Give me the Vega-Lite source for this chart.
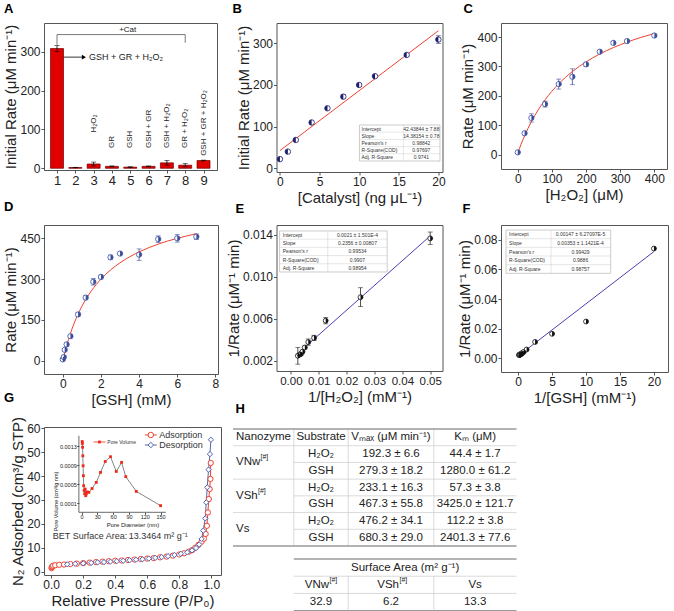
{
"$schema":"https://vega.github.io/schema/vega-lite/v6.json",
"padding":{"left":3,"top":2,"right":0,"bottom":0},
"background":"#ffffff",
"columns":3,
"align":"each",
"bounds":"flush",
"spacing":{"row":53,"column":55.5},
"config":{
 "font":"Liberation Sans",
 "view":{"stroke":"#555","strokeWidth":1},
 "axis":{"domain":false,"grid":false,"tickColor":"#555","tickSize":3,"tickCount":30,"labelFontSize":12,"labelColor":"#222","labelPadding":1,"labelOverlap":false,"labelFlush":false,"titleFontSize":15,"titleFontWeight":"normal","titleColor":"#222","titlePadding":1},
 "axisX":{"titlePadding":3},
 "title":{"fontSize":13,"fontWeight":"bold","anchor":"start","frame":"group","baseline":"alphabetic","color":"#000"}
},
"datasets":{
 "a_bars":[{"n":1,"rate":308,"lo":300,"hi":316},{"n":2,"rate":2,"lo":1.5,"hi":2.5},{"n":3,"rate":11,"lo":6,"hi":16},{"n":4,"rate":5,"lo":4,"hi":6},{"n":5,"rate":3,"lo":2,"hi":4},{"n":6,"rate":5,"lo":4,"hi":6},{"n":7,"rate":14,"lo":8,"hi":20},{"n":8,"rate":8,"lo":4,"hi":12},{"n":9,"rate":20,"lo":19,"hi":21}],
 "a_labels":[{"n":3,"y":92,"t":"H₂O₂"},{"n":4,"y":52,"t":"GR"},{"n":5,"y":52,"t":"GSH"},{"n":6,"y":52,"t":"GSH + GR"},{"n":7,"y":52,"t":"GSH + H₂O₂"},{"n":8,"y":52,"t":"GR + H₂O₂"},{"n":9,"y":32,"t":"GSH + GR + H₂O₂"}],
 "a_bracket":[{"n":1,"n2":8,"y":344,"y2":344},{"n":1,"n2":1,"y":318,"y2":344},{"n":8,"n2":8,"y":323,"y2":344}],
 "b_pts":[{"x":0,"y":22,"lo":19,"hi":25},{"x":1,"y":40,"lo":37,"hi":43},{"x":2,"y":68,"lo":65,"hi":71},{"x":4,"y":110,"lo":107,"hi":113},{"x":6,"y":144,"lo":141,"hi":147},{"x":8,"y":172,"lo":167,"hi":177},{"x":10,"y":200,"lo":197,"hi":203},{"x":12,"y":221,"lo":218,"hi":224},{"x":16,"y":272,"lo":269,"hi":275},{"x":20,"y":309,"lo":300,"hi":318}],
 "b_fit":[{"x":0,"y":42.44},{"x":20,"y":330.07}],
 "b_tab_box":[{"x":10.04,"x2":20.2,"y":17.5,"y2":103.9}],
 "b_tab_lines":[{"x":10.04,"x2":20.2,"y":86.6,"y2":86.6},{"x":10.04,"x2":20.2,"y":69.3,"y2":69.3},{"x":10.04,"x2":20.2,"y":52.1,"y2":52.1},{"x":10.04,"x2":20.2,"y":34.8,"y2":34.8},{"x":15.58,"x2":15.58,"y":17.5,"y2":103.9}],
 "b_tab_text":[{"y":95.3,"lab":"Intercept","val":"42.43844 ± 7.88"},{"y":78.0,"lab":"Slope","val":"14.38154 ± 0.78"},{"y":60.7,"lab":"Pearson's r","val":"0.98842"},{"y":43.4,"lab":"R-Square(COD)","val":"0.97697"},{"y":26.1,"lab":"Adj. R-Square","val":"0.9741"}],
 "c_pts":[{"x":0,"y":8,"lo":5,"hi":11},{"x":20,"y":73,"lo":68,"hi":78},{"x":40,"y":125,"lo":111,"hi":139},{"x":80,"y":172,"lo":162,"hi":182},{"x":120,"y":240,"lo":223,"hi":257},{"x":160,"y":265,"lo":238,"hi":292},{"x":200,"y":307,"lo":300,"hi":314},{"x":240,"y":350,"lo":345,"hi":355},{"x":280,"y":380,"lo":375,"hi":385},{"x":320,"y":386,"lo":381,"hi":391},{"x":400,"y":405,"lo":400,"hi":410}],
 "c_fit":[{"x":0,"y":5},{"x":10,"y":36.1},{"x":20,"y":64},{"x":40,"y":112.3},{"x":60,"y":152.5},{"x":80,"y":186.5},{"x":100,"y":215.7},{"x":120,"y":241},{"x":140,"y":263.1},{"x":160,"y":282.6},{"x":180,"y":300},{"x":200,"y":315.5},{"x":240,"y":342.1},{"x":280,"y":364.1},{"x":320,"y":382.6},{"x":360,"y":398.3},{"x":400,"y":411.9}],
 "d_pts":[{"x":0,"y":5,"lo":1,"hi":9},{"x":0.05,"y":13.5,"lo":9,"hi":18},{"x":0.1,"y":40,"lo":35,"hi":45},{"x":0.2,"y":60,"lo":54,"hi":66},{"x":0.4,"y":90,"lo":84,"hi":96},{"x":0.8,"y":170,"lo":164,"hi":176},{"x":1.2,"y":232,"lo":224,"hi":240},{"x":1.6,"y":290,"lo":278,"hi":302},{"x":2,"y":308,"lo":301,"hi":315},{"x":2.5,"y":380,"lo":372,"hi":388},{"x":3,"y":394,"lo":389,"hi":399},{"x":4,"y":390,"lo":369,"hi":411},{"x":5,"y":447,"lo":435,"hi":459},{"x":6,"y":450,"lo":436,"hi":464},{"x":7,"y":456,"lo":446,"hi":466}],
 "d_fit":[{"x":0,"y":0},{"x":0.1,"y":28.6},{"x":0.2,"y":54.5},{"x":0.4,"y":100},{"x":0.6,"y":138.5},{"x":0.8,"y":171.4},{"x":1,"y":200},{"x":1.25,"y":230.8},{"x":1.5,"y":257.1},{"x":2,"y":300},{"x":2.5,"y":333.3},{"x":3,"y":360},{"x":3.5,"y":381.8},{"x":4,"y":400},{"x":5,"y":428.6},{"x":6,"y":450},{"x":7,"y":466.7}],
 "e_pts":[{"x":0.0025,"y":0.00247,"lo":0.00167,"hi":0.00327},{"x":0.003125,"y":0.00259,"lo":0.00249,"hi":0.00269},{"x":0.00357,"y":0.00263,"lo":0.00253,"hi":0.00273},{"x":0.00417,"y":0.00286,"lo":0.00276,"hi":0.00296},{"x":0.005,"y":0.00326,"lo":0.00314,"hi":0.00338},{"x":0.00625,"y":0.00377,"lo":0.00347,"hi":0.00407},{"x":0.00833,"y":0.00417,"lo":0.00392,"hi":0.00442},{"x":0.0125,"y":0.00581,"lo":0.00551,"hi":0.00611},{"x":0.025,"y":0.00805,"lo":0.00715,"hi":0.00895},{"x":0.05,"y":0.01365,"lo":0.01305,"hi":0.01425}],
 "e_fit":[{"x":0.0025,"y":0.002689},{"x":0.05,"y":0.01388}],
 "e_tab_box":[{"x":-0.00404,"x2":0.03456,"y":0.010448,"y2":0.014352}],
 "e_tab_lines":[{"x":-0.00404,"x2":0.03456,"y":0.013571,"y2":0.013571},{"x":-0.00404,"x2":0.03456,"y":0.01279,"y2":0.01279},{"x":-0.00404,"x2":0.03456,"y":0.01201,"y2":0.01201},{"x":-0.00404,"x2":0.03456,"y":0.011229,"y2":0.011229},{"x":0.01324,"x2":0.01324,"y":0.010448,"y2":0.014352}],
 "e_tab_text":[{"y":0.013962,"lab":"Intercept","val":"0.0021 ± 1.501E-4"},{"y":0.013181,"lab":"Slope","val":"0.2356 ± 0.00807"},{"y":0.0124,"lab":"Pearson's r","val":"0.99534"},{"y":0.011619,"lab":"R-Square(COD)","val":"0.9907"},{"y":0.010838,"lab":"Adj. R-Square","val":"0.98954"}],
 "f_pts":[{"x":0.143,"y":0.0022,"lo":0.0019,"hi":0.0025},{"x":0.167,"y":0.00222,"lo":0.0019,"hi":0.00254},{"x":0.2,"y":0.00224,"lo":0.0019,"hi":0.00258},{"x":0.25,"y":0.00256,"lo":0.0022,"hi":0.0029},{"x":0.333,"y":0.00254,"lo":0.0022,"hi":0.0029},{"x":0.4,"y":0.00263,"lo":0.0023,"hi":0.003},{"x":0.5,"y":0.00325,"lo":0.0029,"hi":0.0036},{"x":0.625,"y":0.00345,"lo":0.0031,"hi":0.0038},{"x":0.833,"y":0.0043,"lo":0.0039,"hi":0.0047},{"x":1.25,"y":0.0059,"lo":0.0055,"hi":0.0063},{"x":2.5,"y":0.011,"lo":0.0103,"hi":0.0117},{"x":5,"y":0.0165,"lo":0.0155,"hi":0.0175},{"x":10,"y":0.0248,"lo":0.0237,"hi":0.0259},{"x":20,"y":0.0741,"lo":0.0729,"hi":0.0753}],
 "f_fit":[{"x":0.143,"y":0.001975},{"x":20,"y":0.07207}],
 "f_tab_box":[{"x":-1.78,"x2":13.63,"y":0.05735,"y2":0.0866}],
 "f_tab_lines":[{"x":-1.78,"x2":13.63,"y":0.08075,"y2":0.08075},{"x":-1.78,"x2":13.63,"y":0.0749,"y2":0.0749},{"x":-1.78,"x2":13.63,"y":0.06905,"y2":0.06905},{"x":-1.78,"x2":13.63,"y":0.0632,"y2":0.0632},{"x":4.84,"x2":4.84,"y":0.05735,"y2":0.0866}],
 "f_tab_text":[{"y":0.083675,"lab":"Intercept","val":"0.00147 ± 6.27097E-5"},{"y":0.077825,"lab":"Slope","val":"0.00353 ± 1.1421E-4"},{"y":0.071975,"lab":"Pearson's r","val":"0.99429"},{"y":0.066125,"lab":"R-Square(COD)","val":"0.9886"},{"y":0.060275,"lab":"Adj. R-Square","val":"0.98757"}],
 "g_iso":[
  {"s":"Adsorption","p":0.002,"v":1.5},{"s":"Adsorption","p":0.004,"v":1.9},{"s":"Adsorption","p":0.007,"v":2.2},{"s":"Adsorption","p":0.012,"v":2.5},{"s":"Adsorption","p":0.025,"v":2.7},{"s":"Adsorption","p":0.05,"v":2.9},{"s":"Adsorption","p":0.08,"v":3.0},{"s":"Adsorption","p":0.12,"v":3.2},{"s":"Adsorption","p":0.16,"v":3.4},{"s":"Adsorption","p":0.2,"v":3.6},{"s":"Adsorption","p":0.24,"v":3.8},{"s":"Adsorption","p":0.28,"v":4.0},{"s":"Adsorption","p":0.32,"v":4.2},{"s":"Adsorption","p":0.36,"v":4.4},{"s":"Adsorption","p":0.4,"v":4.6},{"s":"Adsorption","p":0.44,"v":4.7},{"s":"Adsorption","p":0.48,"v":4.9},{"s":"Adsorption","p":0.52,"v":5.1},{"s":"Adsorption","p":0.56,"v":5.3},{"s":"Adsorption","p":0.6,"v":5.5},{"s":"Adsorption","p":0.64,"v":5.7},{"s":"Adsorption","p":0.68,"v":6.0},{"s":"Adsorption","p":0.72,"v":6.3},{"s":"Adsorption","p":0.76,"v":6.7},{"s":"Adsorption","p":0.8,"v":7.2},{"s":"Adsorption","p":0.83,"v":7.7},{"s":"Adsorption","p":0.86,"v":8.4},{"s":"Adsorption","p":0.88,"v":9.0},{"s":"Adsorption","p":0.9,"v":10.0},{"s":"Adsorption","p":0.92,"v":11.2},{"s":"Adsorption","p":0.94,"v":12.6},{"s":"Adsorption","p":0.954,"v":13.8},{"s":"Adsorption","p":0.965,"v":15.8},{"s":"Adsorption","p":0.973,"v":19.2},{"s":"Adsorption","p":0.979,"v":24.8},{"s":"Adsorption","p":0.985,"v":30.4},{"s":"Adsorption","p":0.99,"v":34.6},{"s":"Adsorption","p":0.995,"v":38.8},{"s":"Adsorption","p":0.997,"v":45.5},
  {"s":"Desorption","p":0.998,"v":55.2},{"s":"Desorption","p":0.992,"v":49.2},{"s":"Desorption","p":0.983,"v":42.7},{"s":"Desorption","p":0.975,"v":35.3},{"s":"Desorption","p":0.969,"v":29},{"s":"Desorption","p":0.9625,"v":22.3},{"s":"Desorption","p":0.95,"v":17.2},{"s":"Desorption","p":0.94,"v":13.7},{"s":"Desorption","p":0.925,"v":11.4},{"s":"Desorption","p":0.905,"v":9.9},{"s":"Desorption","p":0.88,"v":8.9},{"s":"Desorption","p":0.85,"v":8.1},{"s":"Desorption","p":0.81,"v":7.5},{"s":"Desorption","p":0.77,"v":7.0},{"s":"Desorption","p":0.73,"v":6.5},{"s":"Desorption","p":0.69,"v":6.1},{"s":"Desorption","p":0.65,"v":5.8},{"s":"Desorption","p":0.61,"v":5.5},{"s":"Desorption","p":0.57,"v":5.2},{"s":"Desorption","p":0.53,"v":5.0},{"s":"Desorption","p":0.49,"v":4.8},{"s":"Desorption","p":0.45,"v":4.6},{"s":"Desorption","p":0.41,"v":4.4},{"s":"Desorption","p":0.37,"v":4.2},{"s":"Desorption","p":0.33,"v":4.0},{"s":"Desorption","p":0.29,"v":3.9},{"s":"Desorption","p":0.25,"v":3.7},{"s":"Desorption","p":0.2,"v":3.5},{"s":"Desorption","p":0.15,"v":3.3},{"s":"Desorption","p":0.1,"v":3.1}],
 "g_leg":[{"s":"Adsorption","p":0.585,"p2":0.66,"pm":0.6225,"pt":0.675,"v":57.2},{"s":"Desorption","p":0.585,"p2":0.66,"pm":0.6225,"pt":0.675,"v":53.0}],
 "pore":[{"d":1.3,"pv":0.0014},{"d":1.6,"pv":0.00136},{"d":2.0,"pv":0.00128},{"d":2.5,"pv":0.0011},{"d":3.0,"pv":0.00089},{"d":3.5,"pv":0.00068},{"d":4.0,"pv":0.00047},{"d":5.0,"pv":0.00037},{"d":6.0,"pv":0.0003},{"d":7.0,"pv":0.0004},{"d":8.0,"pv":0.00026},{"d":9.0,"pv":0.0003},{"d":11,"pv":0.00034},{"d":14,"pv":0.00033},{"d":20,"pv":0.00041},{"d":28,"pv":0.00054},{"d":36,"pv":0.00075},{"d":45,"pv":0.00098},{"d":55,"pv":0.00108},{"d":66,"pv":0.00077},{"d":76,"pv":0.00096},{"d":84,"pv":0.00066},{"d":104,"pv":0.00035},{"d":150,"pv":0.00005}],
 "h_light":[{"x":-0.5,"x2":3.5,"y":0.5,"y2":0.5},{"x":0.5,"x2":3.5,"y":1.5,"y2":1.5},{"x":-0.5,"x2":3.5,"y":2.5,"y2":2.5},{"x":0.5,"x2":3.5,"y":3.5,"y2":3.5},{"x":-0.5,"x2":3.5,"y":4.5,"y2":4.5},{"x":0.5,"x2":3.5,"y":5.5,"y2":5.5},{"x":0.5,"x2":0.5,"y":-0.5,"y2":6.5},{"x":1.5,"x2":1.5,"y":-0.5,"y2":6.5},{"x":2.5,"x2":2.5,"y":-0.5,"y2":6.5},{"x":0.5,"x2":3.5,"y":8.5,"y2":8.5},{"x":0.5,"x2":3.5,"y":9.5,"y2":9.5},{"x":1.5,"x2":1.5,"y":8.5,"y2":10.5},{"x":2.5,"x2":2.5,"y":8.5,"y2":10.5}],
 "h_dark":[{"x":-0.5,"x2":3.5,"y":-0.5,"y2":-0.5},{"x":-0.5,"x2":3.5,"y":6.5,"y2":6.5},{"x":0.5,"x2":3.5,"y":7.5,"y2":7.5},{"x":0.5,"x2":3.5,"y":10.5,"y2":10.5}],
 "h_center":[{"col":1,"row":0,"t":"Substrate"},{"col":2,"row":0,"t":"Vₘₐₓ (μM min⁻¹)"},{"col":3,"row":0,"t":"Kₘ (μM)"},
  {"col":1,"row":1,"t":"H₂O₂"},{"col":2,"row":1,"t":"192.3 ± 6.6"},{"col":3,"row":1,"t":"44.4 ± 1.7"},
  {"col":1,"row":2,"t":"GSH"},{"col":2,"row":2,"t":"279.3 ± 18.2"},{"col":3,"row":2,"t":"1280.0 ± 61.2"},
  {"col":1,"row":3,"t":"H₂O₂"},{"col":2,"row":3,"t":"233.1 ± 16.3"},{"col":3,"row":3,"t":"57.3 ± 3.8"},
  {"col":1,"row":4,"t":"GSH"},{"col":2,"row":4,"t":"467.3 ± 55.8"},{"col":3,"row":4,"t":"3425.0 ± 121.7"},
  {"col":1,"row":5,"t":"H₂O₂"},{"col":2,"row":5,"t":"476.2 ± 34.1"},{"col":3,"row":5,"t":"112.2 ± 3.8"},
  {"col":1,"row":6,"t":"GSH"},{"col":2,"row":6,"t":"680.3 ± 29.0"},{"col":3,"row":6,"t":"2401.3 ± 77.6"},
  {"col":2.165,"row":8,"t":"Surface Area (m² g⁻¹)"},{"col":3,"row":9,"t":"Vs"},
  {"col":1,"row":10,"t":"32.9"},{"col":2,"row":10,"t":"6.2"},{"col":3,"row":10,"t":"13.3"}],
 "h_left":[{"col":-0.5,"row":0,"t":"Nanozyme"},{"col":-0.5,"row":1.5,"t":"VNw"},{"col":-0.5,"row":3.5,"t":"VSh"},{"col":-0.5,"row":5.5,"t":"Vs"}]
},
"concat":[
 {"width":173,"height":147,"title":{"text":"A","dx":-40,"offset":7},
  "layer":[
   {"data":{"name":"a_bars"},"mark":{"type":"bar","size":13,"fill":"#e10000","stroke":"#6e0000","strokeWidth":0.7},
    "encoding":{"x":{"field":"n","type":"quantitative","scale":{"domain":[0.563,9.463],"nice":false,"zero":false},"axis":{"values":[1,2,3,4,5,6,7,8,9],"format":"d","tickCount":30,"title":null,"labelFontSize":13,"labelOverlap":false}},
     "y":{"field":"rate","type":"quantitative","scale":{"domain":[-4.4,373.8],"nice":false,"zero":false},"axis":{"values":[0,100,200,300],"format":"d","tickCount":30,"labelOverlap":false,"title":"Initial Rate (μM min⁻¹)"}}}},
   {"data":{"name":"a_bars"},"mark":{"type":"rule","color":"#000","strokeWidth":0.8},"encoding":{"x":{"field":"n","type":"quantitative"},"y":{"field":"lo","type":"quantitative"},"y2":{"field":"hi"}}},
   {"data":{"name":"a_bars"},"mark":{"type":"tick","orient":"horizontal","size":5,"thickness":0.8,"color":"#000"},"encoding":{"x":{"field":"n","type":"quantitative"},"y":{"field":"lo","type":"quantitative"}}},
   {"data":{"name":"a_bars"},"mark":{"type":"tick","orient":"horizontal","size":5,"thickness":0.8,"color":"#000"},"encoding":{"x":{"field":"n","type":"quantitative"},"y":{"field":"hi","type":"quantitative"}}},
   {"data":{"name":"a_labels"},"mark":{"type":"text","angle":270,"align":"left","baseline":"middle","fontSize":8,"color":"#222"},"encoding":{"x":{"field":"n","type":"quantitative"},"y":{"field":"y","type":"quantitative"},"text":{"field":"t"}}},
   {"data":{"name":"a_bracket"},"mark":{"type":"rule","color":"#555","strokeWidth":0.8},"encoding":{"x":{"field":"n","type":"quantitative"},"x2":{"field":"n2"},"y":{"field":"y","type":"quantitative"},"y2":{"field":"y2"}}},
   {"data":{"values":[{"n":4.86,"y":350,"t":"+Cat"}]},"mark":{"type":"text","align":"center","baseline":"alphabetic","fontSize":8,"color":"#222"},"encoding":{"x":{"field":"n","type":"quantitative"},"y":{"field":"y","type":"quantitative"},"text":{"field":"t"}}},
   {"data":{"values":[{"n":1.36,"n2":2.45,"y":286}]},"mark":{"type":"rule","color":"#000","strokeWidth":0.8},"encoding":{"x":{"field":"n","type":"quantitative"},"x2":{"field":"n2"},"y":{"field":"y","type":"quantitative"}}},
   {"data":{"values":[{"n":2.47,"y":286}]},"mark":{"type":"point","shape":"triangle-right","filled":true,"color":"#000","size":22,"opacity":1},"encoding":{"x":{"field":"n","type":"quantitative"},"y":{"field":"y","type":"quantitative"}}},
   {"data":{"values":[{"n":2.75,"y":286,"t":"GSH + GR + H₂O₂"}]},"mark":{"type":"text","align":"left","baseline":"middle","fontSize":9,"color":"#222"},"encoding":{"x":{"field":"n","type":"quantitative"},"y":{"field":"y","type":"quantitative"},"text":{"field":"t"}}}
  ]},
 {"width":166,"height":149,"title":{"text":"B","dx":-44,"offset":7},
  "layer":[
   {"data":{"name":"b_tab_box"},"mark":{"type":"rect","fill":"#fff","stroke":"#aaa","strokeWidth":0.6},
    "encoding":{"x":{"field":"x","type":"quantitative","scale":{"domain":[-0.434,20.52],"nice":false,"zero":false},"axis":{"values":[0,5,10,15,20],"format":"d","tickCount":30,"labelOverlap":false,"title":"[Catalyst] (ng μL⁻¹)"}},"x2":{"field":"x2"},
     "y":{"field":"y","type":"quantitative","scale":{"domain":[-8.9,348.7],"nice":false,"zero":false},"axis":{"values":[0,100,200,300],"format":"d","tickCount":30,"labelOverlap":false,"title":"Initial Rate (μM min⁻¹)"}},"y2":{"field":"y2"}}},
   {"data":{"name":"b_tab_lines"},"mark":{"type":"rule","color":"#ccc","strokeWidth":0.5},"encoding":{"x":{"field":"x","type":"quantitative"},"x2":{"field":"x2"},"y":{"field":"y","type":"quantitative"},"y2":{"field":"y2"}}},
   {"data":{"name":"b_tab_text"},"mark":{"type":"text","align":"left","baseline":"middle","fontSize":5,"color":"#333"},"encoding":{"x":{"datum":10.3,"type":"quantitative"},"y":{"field":"y","type":"quantitative"},"text":{"field":"lab"}}},
   {"data":{"name":"b_tab_text"},"mark":{"type":"text","align":"center","baseline":"middle","fontSize":5,"color":"#333"},"encoding":{"x":{"datum":17.85,"type":"quantitative"},"y":{"field":"y","type":"quantitative"},"text":{"field":"val"}}},
   {"data":{"name":"b_pts"},"mark":{"type":"rule","color":"#1d1d6e","strokeWidth":0.8},"encoding":{"x":{"field":"x","type":"quantitative"},"y":{"field":"lo","type":"quantitative"},"y2":{"field":"hi"}}},
   {"data":{"name":"b_pts"},"mark":{"type":"tick","orient":"horizontal","size":5,"thickness":0.8,"color":"#1d1d6e"},"encoding":{"x":{"field":"x","type":"quantitative"},"y":{"field":"lo","type":"quantitative"}}},
   {"data":{"name":"b_pts"},"mark":{"type":"tick","orient":"horizontal","size":5,"thickness":0.8,"color":"#1d1d6e"},"encoding":{"x":{"field":"x","type":"quantitative"},"y":{"field":"hi","type":"quantitative"}}},
   {"data":{"name":"b_fit"},"mark":{"type":"line","color":"#f0412f","strokeWidth":1},"encoding":{"x":{"field":"x","type":"quantitative"},"y":{"field":"y","type":"quantitative"}}},
   {"data":{"name":"b_pts"},"mark":{"type":"point","shape":"circle","filled":true,"fill":"#fff","stroke":"#1d1d6e","strokeWidth":0.8,"size":30,"opacity":1},"encoding":{"x":{"field":"x","type":"quantitative"},"y":{"field":"y","type":"quantitative"}}},
   {"data":{"name":"b_pts"},"mark":{"type":"point","shape":"M0,-1A1,1,0,0,0,0,1Z","filled":true,"fill":"#1d1d6e","strokeWidth":0,"size":30,"opacity":1},"encoding":{"x":{"field":"x","type":"quantitative"},"y":{"field":"y","type":"quantitative"}}}
  ]},
 {"width":166,"height":146,"title":{"text":"C","dx":-37.5,"offset":7},
  "layer":[
   {"data":{"name":"c_pts"},"mark":{"type":"rule","color":"#3a4d9c","strokeWidth":0.8},
    "encoding":{"x":{"field":"x","type":"quantitative","scale":{"domain":[-49,437],"nice":false,"zero":false},"axis":{"values":[0,100,200,300,400],"format":"d","tickCount":30,"labelOverlap":false,"title":"[H₂O₂] (μM)"}},
     "y":{"field":"lo","type":"quantitative","scale":{"domain":[-48.6,447.6],"nice":false,"zero":false},"axis":{"values":[0,100,200,300,400],"format":"d","tickCount":30,"labelOverlap":false,"title":"Rate (μM min⁻¹)"}},"y2":{"field":"hi"}}},
   {"data":{"name":"c_pts"},"mark":{"type":"tick","orient":"horizontal","size":5,"thickness":0.8,"color":"#3a4d9c"},"encoding":{"x":{"field":"x","type":"quantitative"},"y":{"field":"lo","type":"quantitative"}}},
   {"data":{"name":"c_pts"},"mark":{"type":"tick","orient":"horizontal","size":5,"thickness":0.8,"color":"#3a4d9c"},"encoding":{"x":{"field":"x","type":"quantitative"},"y":{"field":"hi","type":"quantitative"}}},
   {"data":{"name":"c_fit"},"mark":{"type":"line","color":"#f0412f","strokeWidth":1,"interpolate":"monotone"},"encoding":{"x":{"field":"x","type":"quantitative"},"y":{"field":"y","type":"quantitative"}}},
   {"data":{"name":"c_pts"},"mark":{"type":"point","shape":"circle","filled":true,"fill":"#fff","stroke":"#3a4d9c","strokeWidth":0.8,"size":28,"opacity":1},"encoding":{"x":{"field":"x","type":"quantitative"},"y":{"field":"y","type":"quantitative"}}},
   {"data":{"name":"c_pts"},"mark":{"type":"point","shape":"M0,-1A1,1,0,0,1,0,1Z","filled":true,"fill":"#3a4d9c","strokeWidth":0,"size":28,"opacity":1},"encoding":{"x":{"field":"x","type":"quantitative"},"y":{"field":"y","type":"quantitative"}}}
  ]},
 {"width":174,"height":149,"title":{"text":"D","dx":-40,"offset":11},
  "layer":[
   {"data":{"name":"d_pts"},"mark":{"type":"rule","color":"#3a4d9c","strokeWidth":0.8},
    "encoding":{"x":{"field":"x","type":"quantitative","scale":{"domain":[-0.985,8.134],"nice":false,"zero":false},"axis":{"values":[0,2,4,6,8],"format":"d","tickCount":30,"labelOverlap":false,"title":"[GSH] (mM)"}},
     "y":{"field":"lo","type":"quantitative","scale":{"domain":[-48.9,498.9],"nice":false,"zero":false},"axis":{"values":[0,150,300,450],"format":"d","tickCount":30,"labelOverlap":false,"title":"Rate (μM min⁻¹)"}},"y2":{"field":"hi"}}},
   {"data":{"name":"d_pts"},"mark":{"type":"tick","orient":"horizontal","size":5,"thickness":0.8,"color":"#3a4d9c"},"encoding":{"x":{"field":"x","type":"quantitative"},"y":{"field":"lo","type":"quantitative"}}},
   {"data":{"name":"d_pts"},"mark":{"type":"tick","orient":"horizontal","size":5,"thickness":0.8,"color":"#3a4d9c"},"encoding":{"x":{"field":"x","type":"quantitative"},"y":{"field":"hi","type":"quantitative"}}},
   {"data":{"name":"d_fit"},"mark":{"type":"line","color":"#f0412f","strokeWidth":1,"interpolate":"monotone"},"encoding":{"x":{"field":"x","type":"quantitative"},"y":{"field":"y","type":"quantitative"}}},
   {"data":{"name":"d_pts"},"mark":{"type":"point","shape":"circle","filled":true,"fill":"#fff","stroke":"#3a4d9c","strokeWidth":0.8,"size":28,"opacity":1},"encoding":{"x":{"field":"x","type":"quantitative"},"y":{"field":"y","type":"quantitative"}}},
   {"data":{"name":"d_pts"},"mark":{"type":"point","shape":"M0,-1A1,1,0,0,1,0,1Z","filled":true,"fill":"#3a4d9c","strokeWidth":0,"size":28,"opacity":1},"encoding":{"x":{"field":"x","type":"quantitative"},"y":{"field":"y","type":"quantitative"}}}
  ]},
 {"width":166,"height":146,"title":{"text":"E","dx":-41,"offset":9},
  "layer":[
   {"data":{"name":"e_tab_box"},"mark":{"type":"rect","fill":"#fff","stroke":"#aaa","strokeWidth":0.6},
    "encoding":{"x":{"field":"x","type":"quantitative","scale":{"domain":[-0.00515,0.05441],"nice":false,"zero":false},"axis":{"values":[0,0.01,0.02,0.03,0.04,0.05],"tickCount":30,"format":".2f","labelFontSize":11.5,"labelOverlap":false,"title":"1/[H₂O₂] (mM⁻¹)"}},"x2":{"field":"x2"},
     "y":{"field":"y","type":"quantitative","scale":{"domain":[0.00102,0.01492],"nice":false,"zero":false},"axis":{"values":[0.002,0.006,0.01,0.014],"tickCount":30,"format":".3f","labelOverlap":false,"title":"1/Rate (μM⁻¹ min)"}},"y2":{"field":"y2"}}},
   {"data":{"name":"e_tab_lines"},"mark":{"type":"rule","color":"#ccc","strokeWidth":0.5},"encoding":{"x":{"field":"x","type":"quantitative"},"x2":{"field":"x2"},"y":{"field":"y","type":"quantitative"},"y2":{"field":"y2"}}},
   {"data":{"name":"e_tab_text"},"mark":{"type":"text","align":"left","baseline":"middle","fontSize":5,"color":"#333"},"encoding":{"x":{"datum":-0.0029,"type":"quantitative"},"y":{"field":"y","type":"quantitative"},"text":{"field":"lab"}}},
   {"data":{"name":"e_tab_text"},"mark":{"type":"text","align":"center","baseline":"middle","fontSize":5,"color":"#333"},"encoding":{"x":{"datum":0.0239,"type":"quantitative"},"y":{"field":"y","type":"quantitative"},"text":{"field":"val"}}},
   {"data":{"name":"e_pts"},"mark":{"type":"rule","color":"#222","strokeWidth":0.8},"encoding":{"x":{"field":"x","type":"quantitative"},"y":{"field":"lo","type":"quantitative"},"y2":{"field":"hi"}}},
   {"data":{"name":"e_pts"},"mark":{"type":"tick","orient":"horizontal","size":5,"thickness":0.8,"color":"#222"},"encoding":{"x":{"field":"x","type":"quantitative"},"y":{"field":"lo","type":"quantitative"}}},
   {"data":{"name":"e_pts"},"mark":{"type":"tick","orient":"horizontal","size":5,"thickness":0.8,"color":"#222"},"encoding":{"x":{"field":"x","type":"quantitative"},"y":{"field":"hi","type":"quantitative"}}},
   {"data":{"name":"e_fit"},"mark":{"type":"line","color":"#4a3fb0","strokeWidth":1},"encoding":{"x":{"field":"x","type":"quantitative"},"y":{"field":"y","type":"quantitative"}}},
   {"data":{"name":"e_pts"},"mark":{"type":"point","shape":"circle","filled":true,"fill":"#fff","stroke":"#111","strokeWidth":0.8,"size":24,"opacity":1},"encoding":{"x":{"field":"x","type":"quantitative"},"y":{"field":"y","type":"quantitative"}}},
   {"data":{"name":"e_pts"},"mark":{"type":"point","shape":"M0,-1A1,1,0,0,1,0,1Z","filled":true,"fill":"#111","strokeWidth":0,"size":24,"opacity":1},"encoding":{"x":{"field":"x","type":"quantitative"},"y":{"field":"y","type":"quantitative"}}}
  ]},
 {"width":167,"height":147,"title":{"text":"F","dx":-38.5,"offset":9},
  "layer":[
   {"data":{"name":"f_tab_box"},"mark":{"type":"rect","fill":"#fff","stroke":"#aaa","strokeWidth":0.6},
    "encoding":{"x":{"field":"x","type":"quantitative","scale":{"domain":[-2.52,22.07],"nice":false,"zero":false},"axis":{"values":[0,5,10,15,20],"format":"d","tickCount":30,"labelOverlap":false,"title":"1/[GSH] (mM⁻¹)"}},"x2":{"field":"x2"},
     "y":{"field":"y","type":"quantitative","scale":{"domain":[-0.0093,0.09],"nice":false,"zero":false},"axis":{"values":[0,0.02,0.04,0.06,0.08],"tickCount":30,"format":".2f","labelOverlap":false,"title":"1/Rate (μM⁻¹ min)"}},"y2":{"field":"y2"}}},
   {"data":{"name":"f_tab_lines"},"mark":{"type":"rule","color":"#ccc","strokeWidth":0.5},"encoding":{"x":{"field":"x","type":"quantitative"},"x2":{"field":"x2"},"y":{"field":"y","type":"quantitative"},"y2":{"field":"y2"}}},
   {"data":{"name":"f_tab_text"},"mark":{"type":"text","align":"left","baseline":"middle","fontSize":5,"color":"#333"},"encoding":{"x":{"datum":-1.33,"type":"quantitative"},"y":{"field":"y","type":"quantitative"},"text":{"field":"lab"}}},
   {"data":{"name":"f_tab_text"},"mark":{"type":"text","align":"center","baseline":"middle","fontSize":5,"color":"#333"},"encoding":{"x":{"datum":9.19,"type":"quantitative"},"y":{"field":"y","type":"quantitative"},"text":{"field":"val"}}},
   {"data":{"name":"f_pts"},"mark":{"type":"rule","color":"#222","strokeWidth":0.8},"encoding":{"x":{"field":"x","type":"quantitative"},"y":{"field":"lo","type":"quantitative"},"y2":{"field":"hi"}}},
   {"data":{"name":"f_fit"},"mark":{"type":"line","color":"#4a3fb0","strokeWidth":1},"encoding":{"x":{"field":"x","type":"quantitative"},"y":{"field":"y","type":"quantitative"}}},
   {"data":{"name":"f_pts"},"mark":{"type":"point","shape":"circle","filled":true,"fill":"#fff","stroke":"#111","strokeWidth":0.8,"size":24,"opacity":1},"encoding":{"x":{"field":"x","type":"quantitative"},"y":{"field":"y","type":"quantitative"}}},
   {"data":{"name":"f_pts"},"mark":{"type":"point","shape":"M0,-1A1,1,0,0,1,0,1Z","filled":true,"fill":"#111","strokeWidth":0,"size":24,"opacity":1},"encoding":{"x":{"field":"x","type":"quantitative"},"y":{"field":"y","type":"quantitative"}}}
  ]},
 {"width":177,"height":148,"title":{"text":"G","dx":-40,"offset":11},
  "layer":[
   {"layer":[
     {"data":{"name":"g_iso"},"mark":{"type":"line","strokeWidth":1},
      "encoding":{"x":{"field":"p","type":"quantitative","scale":{"domain":[-0.045,1.061],"nice":false,"zero":false},"axis":{"values":[0,0.2,0.4,0.6,0.8,1],"tickCount":30,"format":".1f","labelOverlap":false,"title":"Relative Pressure (P/P₀)"}},
       "y":{"field":"v","type":"quantitative","scale":{"domain":[-1.38,60.54],"nice":false,"zero":false},"axis":{"values":[0,10,20,30,40,50,60],"format":"d","tickCount":30,"labelOverlap":false,"title":"N₂ Adsorbed (cm³/g STP)"}},
       "color":{"field":"s","type":"nominal","scale":{"domain":["Adsorption","Desorption"],"range":["#ef4130","#5565b0"]},"legend":null},
       "order":{"field":"p","type":"quantitative"}}},
     {"data":{"name":"g_iso"},"mark":{"type":"point","filled":true,"fill":"#fff","strokeWidth":1,"size":28,"opacity":1},
      "encoding":{"x":{"field":"p","type":"quantitative"},"y":{"field":"v","type":"quantitative"},
       "stroke":{"field":"s","type":"nominal","scale":{"domain":["Adsorption","Desorption"],"range":["#ef4130","#5565b0"]},"legend":null},
       "shape":{"field":"s","type":"nominal","scale":{"domain":["Adsorption","Desorption"],"range":["circle","diamond"]},"legend":null}}},
     {"data":{"name":"g_leg"},"mark":{"type":"rule","strokeWidth":1},
      "encoding":{"x":{"field":"p","type":"quantitative"},"x2":{"field":"p2"},"y":{"field":"v","type":"quantitative"},"color":{"field":"s","type":"nominal","legend":null}}},
     {"data":{"name":"g_leg"},"mark":{"type":"point","filled":true,"fill":"#fff","strokeWidth":1,"size":30,"opacity":1},
      "encoding":{"x":{"field":"pm","type":"quantitative"},"y":{"field":"v","type":"quantitative"},"stroke":{"field":"s","type":"nominal","legend":null},"shape":{"field":"s","type":"nominal","legend":null}}},
     {"data":{"name":"g_leg"},"mark":{"type":"text","align":"left","baseline":"middle","fontSize":9,"color":"#333"},
      "encoding":{"x":{"field":"pt","type":"quantitative"},"y":{"field":"v","type":"quantitative"},"text":{"field":"s"}}},
     {"data":{"values":[{"p":0.01,"v":15,"t":"BET Surface Area:"},{"p":0.485,"v":15,"t":"13.3464 m² g⁻¹"}]},"mark":{"type":"text","align":"left","baseline":"middle","fontSize":9,"color":"#333"},
      "encoding":{"x":{"field":"p","type":"quantitative"},"y":{"field":"v","type":"quantitative"},"text":{"field":"t"}}}
   ]},
   {"layer":[
     {"data":{"values":[{"d":-5,"d2":160,"pv":-0.00009,"pv2":-0.00009},{"d":-5,"d2":-5,"pv":-0.00009,"pv2":0.00152}]},"mark":{"type":"rule","color":"#444","strokeWidth":0.8},
      "encoding":{"x":{"field":"d","type":"quantitative","scale":{"domain":[-71.2,264.7],"nice":false,"zero":false},"axis":{"orient":"bottom","offset":-62.7,"values":[0,30,60,90,120,150],"format":"d","tickCount":30,"labelOverlap":false,"title":"Pore Diameter (nm)","labelFontSize":5.5,"titleFontSize":6,"tickSize":2,"labelPadding":0.5,"titlePadding":1,"tickColor":"#444"}},"x2":{"field":"d2"},
       "y":{"field":"pv","type":"quantitative","scale":{"domain":[-0.00141,0.001706],"nice":false,"zero":false},"axis":{"orient":"left","offset":-34.8,"values":[0.0001,0.0005,0.0009,0.0013],"tickCount":30,"format":".4f","labelOverlap":false,"title":"Pore Volume (cm³/g nm)","labelFontSize":5.5,"titleFontSize":5.5,"tickSize":2,"labelPadding":0.5,"titlePadding":1,"tickColor":"#444"}},"y2":{"field":"pv2"}}},
     {"data":{"name":"pore"},"mark":{"type":"line","color":"#666","strokeWidth":0.8},"encoding":{"x":{"field":"d","type":"quantitative"},"y":{"field":"pv","type":"quantitative"}}},
     {"data":{"name":"pore"},"mark":{"type":"point","shape":"square","filled":true,"color":"#ee2a1b","size":8,"opacity":1},"encoding":{"x":{"field":"d","type":"quantitative"},"y":{"field":"pv","type":"quantitative"}}},
     {"data":{"values":[{"d":22.8,"d2":45.5,"pv":0.00139}]},"mark":{"type":"rule","color":"#ee2a1b","strokeWidth":0.8},"encoding":{"x":{"field":"d","type":"quantitative"},"x2":{"field":"d2"},"y":{"field":"pv","type":"quantitative"}}},
     {"data":{"values":[{"d":34,"pv":0.00139}]},"mark":{"type":"point","shape":"square","filled":true,"color":"#ee2a1b","size":8,"opacity":1},"encoding":{"x":{"field":"d","type":"quantitative"},"y":{"field":"pv","type":"quantitative"}}},
     {"data":{"values":[{"d":49,"pv":0.00139,"t":"Pore Volume"}]},"mark":{"type":"text","align":"left","baseline":"middle","fontSize":5,"color":"#333"},"encoding":{"x":{"field":"d","type":"quantitative"},"y":{"field":"pv","type":"quantitative"},"text":{"field":"t"}}}
   ]}
  ],
  "resolve":{"scale":{"x":"independent","y":"independent"},"axis":{"x":"independent","y":"independent"}}},
 {"width":169,"height":184,"view":{"stroke":null},"title":{"text":"H","dx":-41,"offset":11},
  "layer":[
   {"data":{"name":"h_light"},"mark":{"type":"rule","color":"#d0d0d0","strokeWidth":0.8},
    "encoding":{"x":{"field":"x","type":"quantitative","scale":{"domain":[-0.5,0.5,1.5,2.5,3.5],"range":[-43.5,17.3,71.7,157.3,240],"nice":false,"zero":false},"axis":null},"x2":{"field":"x2"},
     "y":{"field":"y","type":"quantitative","scale":{"domain":[-0.5,6.5,7.5,10.5],"range":[2,119,132,183.7],"nice":false,"zero":false},"axis":null},"y2":{"field":"y2"}}},
   {"data":{"name":"h_dark"},"mark":{"type":"rule","color":"#9a9a9a","strokeWidth":1.5},"encoding":{"x":{"field":"x","type":"quantitative"},"x2":{"field":"x2"},"y":{"field":"y","type":"quantitative"},"y2":{"field":"y2"}}},
   {"data":{"name":"h_center"},"mark":{"type":"text","align":"center","baseline":"middle","fontSize":11.5,"color":"#222"},"encoding":{"x":{"field":"col","type":"quantitative"},"y":{"field":"row","type":"quantitative"},"text":{"field":"t"}}},
   {"data":{"name":"h_left"},"mark":{"type":"text","align":"left","baseline":"middle","dx":3,"fontSize":11.5,"color":"#222"},"encoding":{"x":{"field":"col","type":"quantitative"},"y":{"field":"row","type":"quantitative"},"text":{"field":"t"}}},
   {"data":{"values":[{"col":-0.5,"row":1.5,"t":"[#]"}]},"mark":{"type":"text","align":"left","baseline":"middle","dx":27.5,"dy":-5,"fontSize":7,"color":"#222"},"encoding":{"x":{"field":"col","type":"quantitative"},"y":{"field":"row","type":"quantitative"},"text":{"field":"t"}}},
   {"data":{"values":[{"col":-0.5,"row":3.5,"t":"[#]"}]},"mark":{"type":"text","align":"left","baseline":"middle","dx":25,"dy":-5,"fontSize":7,"color":"#222"},"encoding":{"x":{"field":"col","type":"quantitative"},"y":{"field":"row","type":"quantitative"},"text":{"field":"t"}}},
   {"data":{"values":[{"col":1,"row":9,"t":"VNw"},{"col":2,"row":9,"t":"VSh"}]},"mark":{"type":"text","align":"right","baseline":"middle","dx":8,"fontSize":11.5,"color":"#222"},"encoding":{"x":{"field":"col","type":"quantitative"},"y":{"field":"row","type":"quantitative"},"text":{"field":"t"}}},
   {"data":{"values":[{"col":1,"row":9,"t":"[#]"},{"col":2,"row":9,"t":"[#]"}]},"mark":{"type":"text","align":"left","baseline":"middle","dx":8.5,"dy":-5,"fontSize":7,"color":"#222"},"encoding":{"x":{"field":"col","type":"quantitative"},"y":{"field":"row","type":"quantitative"},"text":{"field":"t"}}}
  ]}
]
}
